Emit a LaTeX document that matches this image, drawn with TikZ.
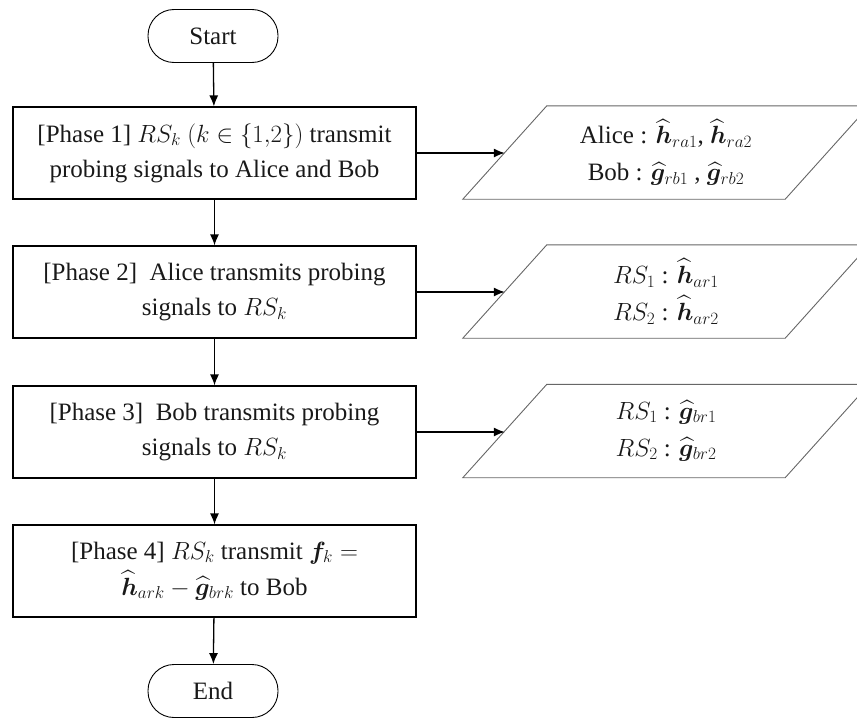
\documentclass[tikz,border=0pt]{standalone}
\usepackage{amsmath,amssymb,bm}
\usepackage{fontspec}
\setmainfont{Liberation Serif}
\usetikzlibrary{arrows.meta,calc}

\begin{document}
\begin{tikzpicture}[x=1pt,y=-1pt,
  every node/.style={font=\fontsize{25}{35}\selectfont, text=black!90},
  term/.style={draw, rounded corners=26pt, minimum width=130pt, minimum height=53pt, line width=0.9pt},
  phase/.style={draw, minimum width=403pt, minimum height=92pt, align=center, line width=1.2pt},
  datab/.style={minimum width=322pt, minimum height=93pt, align=center, font=\fontsize{25}{37}\selectfont},
  databorder/.style={draw=black!60, line width=0.9pt},
  flow/.style={line width=1.3pt, -{Latex[length=11pt,width=9pt]}}]
  \clip (0,0) rectangle (857,720);

  % main flow
  \node[term] (start) at (213,36) {Start};
  \node[phase] (p1) at (214.5,153) {[Phase 1] $RS_k$ $(k\in\{1{,}2\})$ transmit\\probing signals to Alice and Bob};
  \node[phase] (p2) at (214.5,292) {[Phase 2] \ Alice transmits probing\\signals to $RS_k$};
  \node[phase] (p3) at (214.5,432) {[Phase 3] \ Bob transmits probing\\signals to $RS_k$};
  \node[phase] (p4) at (214.5,571) {[Phase 4] $RS_k$ transmit $\bm{f}_k=$\\[1pt]$\widehat{\bm h}_{ark}-\widehat{\bm g}_{brk}$ to Bob};
  \node[term] (end) at (213,691) {End};

  % estimated channels
  \node[datab] (d1) at (666,152.5) {Alice : $\widehat{\bm h}_{ra1}$, $\widehat{\bm h}_{ra2}$\\Bob : $\widehat{\bm g}_{rb1}$ , $\widehat{\bm g}_{rb2}$};
  \node[datab] (d2) at (666,291.5) {$RS_1$ : $\widehat{\bm h}_{ar1}$\\$RS_2$ : $\widehat{\bm h}_{ar2}$};
  \node[datab] (d3) at (666,431) {$RS_1$ : $\widehat{\bm g}_{br1}$\\$RS_2$ : $\widehat{\bm g}_{br2}$};

  \foreach \d in {d1,d2,d3}
    \draw[databorder] ($(\d.north west)+(42,0)$) -- ($(\d.north east)+(42,0)$)
      -- ($(\d.south east)+(-42,0)$) -- ($(\d.south west)+(-42,0)$) -- cycle;

  % connectors
  \draw[flow] (start) -- (p1);
  \draw[flow] (p1) -- (p2);
  \draw[flow] (p2) -- (p3);
  \draw[flow] (p3) -- (p4);
  \draw[flow] (p4) -- (end);
  \draw[flow] (p1.east) -- (p1.east -| d1.west);
  \draw[flow] (p2.east) -- (p2.east -| d2.west);
  \draw[flow] (p3.east) -- (p3.east -| d3.west);
\end{tikzpicture}
\end{document}
